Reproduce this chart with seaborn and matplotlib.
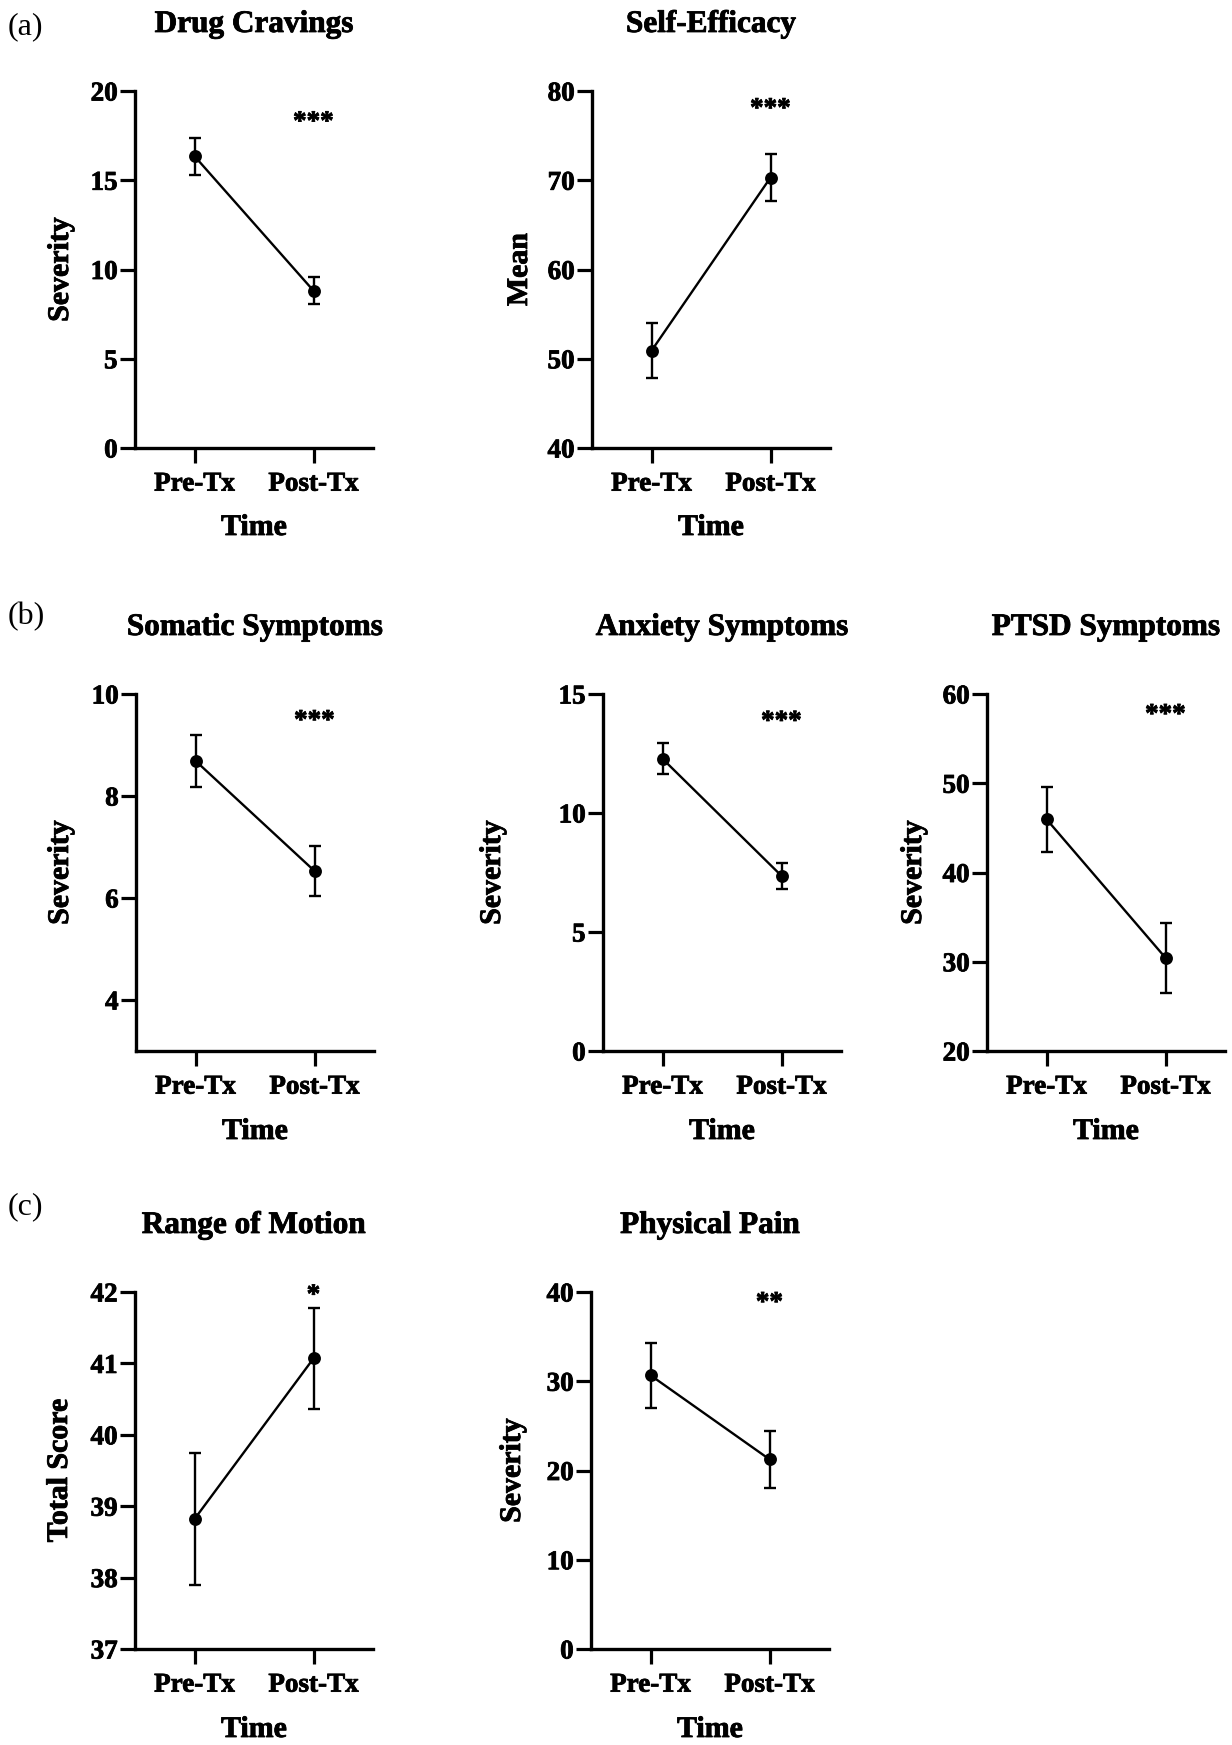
import matplotlib
matplotlib.use("Agg")
import matplotlib.pyplot as plt
import matplotlib.patheffects as pe
import seaborn as sns
import pandas as pd

# ---------------- data ----------------
time_labels = ["Pre-Tx", "Post-Tx"]

drug_cravings_mean = [16.35, 8.81]
drug_cravings_sem = [1.03, 0.75]
self_efficacy_mean = [50.9, 70.3]
self_efficacy_sem = [3.05, 2.6]
somatic_mean = [8.69, 6.53]
somatic_sem = [0.51, 0.49]
anxiety_mean = [12.28, 7.36]
anxiety_sem = [0.65, 0.55]
ptsd_mean = [45.97, 30.44]
ptsd_sem = [3.65, 3.9]
rom_mean = [38.82, 41.07]
rom_sem = [0.92, 0.71]
pain_mean = [30.67, 21.25]
pain_sem = [3.65, 3.2]

titles = ["Drug Cravings", "Self-Efficacy", "Somatic Symptoms", "Anxiety Symptoms",
          "PTSD Symptoms", "Range of Motion", "Physical Pain"]
ylabels = ["Severity", "Mean", "Severity", "Severity", "Severity", "Total Score", "Severity"]
stars = ["***", "***", "***", "***", "***", "*", "**"]
yticks_list = [[0, 5, 10, 15, 20], [40, 50, 60, 70, 80], [4, 6, 8, 10], [0, 5, 10, 15],
               [20, 30, 40, 50, 60], [37, 38, 39, 40, 41, 42], [0, 10, 20, 30, 40]]
ylims = [(0, 20), (40, 80), (3, 10), (0, 15), (20, 60), (37, 42), (0, 40)]
means = [drug_cravings_mean, self_efficacy_mean, somatic_mean, anxiety_mean,
         ptsd_mean, rom_mean, pain_mean]
sems = [drug_cravings_sem, self_efficacy_sem, somatic_sem, anxiety_sem,
        ptsd_sem, rom_sem, pain_sem]
panel_letters = ["(a)", "(b)", "(c)"]

# ---------------- layout (pixels) ----------------
W, H = 1232, 1745
# left, top, bottom, ylabel-anchor-x (right edge of rotated label), xlabel-top-offset,
# star glyph-center fraction
layout = [
    (135, 91, 448, 74, 66, 0.928),
    (592, 91, 448, 533, 66, 0.965),
    (136, 694, 1051, 74, 67, 0.94),
    (603, 694, 1051, 506, 67, 0.938),
    (987, 694, 1051, 927, 67, 0.957),
    (135, 1292, 1649, 73, 67, 1.006),
    (591, 1292, 1649, 526, 67, 0.985),
]
letter_pos = [(8, 27), (8, 617), (8, 1207)]
AX_W = 238

sns.set_style("ticks")
plt.rcParams["font.family"] = ["Liberation Serif", "DejaVu Serif"]
plt.rcParams["font.weight"] = "bold"
for key in ("text.color", "axes.labelcolor", "xtick.color", "ytick.color", "axes.edgecolor"):
    plt.rcParams[key] = "black"

heavy = [pe.withStroke(linewidth=0.6, foreground="black")]

fig = plt.figure(figsize=(W / 100, H / 100), dpi=100)

for i in range(7):
    left, top, bottom, ylab_x, xlab_off, star_y = layout[i]
    h_px = bottom - top
    ax = fig.add_axes([left / W, 1 - bottom / H, AX_W / W, h_px / H])
    df = pd.DataFrame({"Time": time_labels, "Value": means[i]})
    ax.errorbar([0, 1], means[i], yerr=sems[i], fmt="none", ecolor="black",
                elinewidth=1.7, capsize=4, capthick=1.7, zorder=2)
    sns.pointplot(data=df, x="Time", y="Value", color="black", errorbar=None,
                  markers="o", markersize=8, linewidth=1.7, ax=ax, zorder=3)
    ax.set_xlim(-0.5, 1.5)
    ax.set_ylim(*ylims[i])
    ax.set_yticks(yticks_list[i])
    ax.set_yticklabels([str(t) for t in yticks_list[i]])
    sns.despine(ax=ax)
    for s in ("left", "bottom"):
        ax.spines[s].set_linewidth(2.4)
        ax.spines[s].set_color("black")
    ax.tick_params(axis="y", length=11, width=2.3, pad=1.5, labelsize=19.5, colors="black")
    ax.tick_params(axis="x", length=11, width=2.3, pad=6, labelsize=19.5, colors="black")
    for lab in ax.get_xticklabels() + ax.get_yticklabels():
        lab.set_fontweight("bold")
        lab.set_path_effects(heavy)
    t = ax.set_title(titles[i], fontsize=22.5, fontweight="bold", pad=42.5)
    t.set_path_effects(heavy)
    ax.set_ylabel(ylabels[i], fontsize=21.5, fontweight="bold")
    ax.yaxis.set_label_coords((ylab_x - left) / AX_W, 0.5)
    ax.yaxis.label.set_path_effects(heavy)
    ax.set_xlabel("Time", fontsize=21.5, fontweight="bold")
    ax.xaxis.set_label_coords(0.5, -xlab_off / h_px)
    ax.xaxis.label.set_verticalalignment("top")
    ax.xaxis.label.set_path_effects(heavy)
    st = ax.annotate(stars[i], xy=(1, star_y), xycoords=("data", "axes fraction"),
                     xytext=(0, -9), textcoords="offset points", ha="center",
                     va="baseline", fontsize=19.5, fontweight="bold", annotation_clip=False)
    st.set_path_effects(heavy)

for letter, (px, py) in zip(panel_letters, letter_pos):
    fig.text(px / W, 1 - py / H, letter, ha="left", va="center", fontsize=23,
             fontweight="normal")

fig.savefig("out.png", dpi=100)
